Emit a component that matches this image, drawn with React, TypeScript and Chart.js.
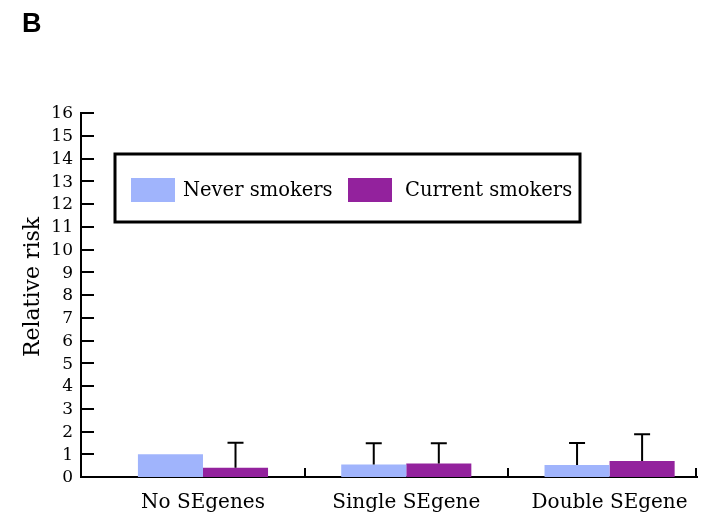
import React, { useEffect, useRef } from "react";
import { Chart, registerables } from "chart.js";

Chart.register(...registerables);

const categories = ["No SEgenes", "Single SEgene", "Double SEgene"];
const seriesNames = ["Never smokers", "Current smokers"];
const neverValues = [1.0, 0.55, 0.53];
const neverUpper: (number | null)[] = [null, 1.48, 1.49];
const currentValues = [0.41, 0.59, 0.7];
const currentUpper: (number | null)[] = [1.51, 1.48, 1.88];
const yTickValues = [0, 1, 2, 3, 4, 5, 6, 7, 8, 9, 10, 11, 12, 13, 14, 15, 16];
const seriesColors = ["#a0b4fc", "#93229d"];
const panelLabel = "B";
const yAxisTitle = "Relative risk";

const SERIF = "'DejaVu Serif', serif";

const decorPlugin = {
  id: "decor",
  afterDatasetsDraw(chart: any) {
    const ctx = chart.ctx;
    const y = chart.scales.y;
    const uppers = [neverUpper, currentUpper];
    ctx.save();
    ctx.strokeStyle = "#000";
    ctx.lineWidth = 2;
    chart.data.datasets.forEach((_: any, i: number) => {
      const meta = chart.getDatasetMeta(i);
      meta.data.forEach((bar: any, j: number) => {
        const up = uppers[i][j];
        if (up == null) return;
        const py = y.getPixelForValue(up);
        ctx.beginPath();
        ctx.moveTo(bar.x, bar.y);
        ctx.lineTo(bar.x, py);
        ctx.moveTo(bar.x - 8, py);
        ctx.lineTo(bar.x + 8, py);
        ctx.stroke();
      });
    });
    ctx.restore();
  },
  afterDraw(chart: any) {
    const ctx = chart.ctx;
    const x = chart.scales.x;
    const y = chart.scales.y;
    const area = chart.chartArea;
    ctx.save();
    ctx.strokeStyle = "#000";
    ctx.lineWidth = 2;
    // inward y ticks
    yTickValues.forEach((v) => {
      if (v === 0) return;
      const py = Math.round(y.getPixelForValue(v));
      ctx.beginPath();
      ctx.moveTo(area.left, py);
      ctx.lineTo(area.left + 13, py);
      ctx.stroke();
    });
    // x category boundary ticks
    const bx = [x.getPixelForValue(0.5), x.getPixelForValue(1.5), area.right - 1];
    bx.forEach((px) => {
      const p = Math.round(px);
      ctx.beginPath();
      ctx.moveTo(p, area.bottom);
      ctx.lineTo(p, area.bottom - 9);
      ctx.stroke();
    });
    // legend box
    ctx.lineWidth = 3;
    ctx.strokeRect(115, 154, 465, 68);
    const swX = [131, 348];
    const txX = [183, 405];
    ctx.font = `19.5px ${SERIF}`;
    ctx.textBaseline = "middle";
    ctx.textAlign = "left";
    seriesNames.forEach((name, i) => {
      ctx.fillStyle = seriesColors[i];
      ctx.fillRect(swX[i], 178, 44, 24);
      ctx.fillStyle = "#000";
      ctx.fillText(name, txX[i], 191);
    });
    // y axis title
    ctx.save();
    ctx.translate(33, 287);
    ctx.rotate(-Math.PI / 2);
    ctx.font = `22px ${SERIF}`;
    ctx.textAlign = "center";
    ctx.textBaseline = "middle";
    ctx.fillStyle = "#000";
    ctx.fillText(yAxisTitle, 0, 0);
    ctx.restore();
    // panel label
    ctx.font = `bold 27px 'Liberation Sans', Arial, sans-serif`;
    ctx.textAlign = "left";
    ctx.textBaseline = "alphabetic";
    ctx.fillStyle = "#000";
    ctx.fillText(panelLabel, 22, 32);
    ctx.restore();
  },
};

export default function App() {
  const ref = useRef<HTMLCanvasElement | null>(null);
  useEffect(() => {
    if (!ref.current) return;
    const chart = new Chart(ref.current, {
      type: "bar",
      data: {
        datasets: [
          {
            label: seriesNames[0],
            data: neverValues.map((v, i) => ({ x: i, y: v })),
            backgroundColor: seriesColors[0],
            borderWidth: 0,
          },
          {
            label: seriesNames[1],
            data: currentValues.map((v, i) => ({ x: i, y: v })),
            backgroundColor: seriesColors[1],
            borderWidth: 0,
          },
        ],
      },
      options: {
        responsive: false,
        animation: false,
        events: [],
        layout: { padding: { left: 0, right: 7, top: 113, bottom: 0 } },
        datasets: { bar: { categoryPercentage: 0.64, barPercentage: 1 } },
        plugins: { legend: { display: false }, tooltip: { enabled: false } },
        scales: {
          x: {
            type: "linear",
            min: -0.6,
            max: 2.43,
            offset: false,
            grid: { display: false, drawTicks: false, offset: false },
            border: { display: true, color: "#000", width: 2 },
            afterBuildTicks: (scale: any) => {
              scale.ticks = categories.map((_, i) => ({ value: i }));
            },
            afterFit: (scale: any) => {
              scale.height = 37;
            },
            ticks: {
              autoSkip: false,
              maxRotation: 0,
              padding: 14,
              color: "#000",
              font: { family: SERIF, size: 20 },
              callback: (v: any) => categories[Math.round(Number(v))] ?? "",
            },
          },
          y: {
            min: 0,
            max: 16,
            grid: { display: false, drawTicks: false },
            border: { display: true, color: "#000", width: 2 },
            afterFit: (scale: any) => {
              scale.width = 81;
            },
            afterBuildTicks: (scale: any) => {
              scale.ticks = yTickValues.map((v) => ({ value: v }));
            },
            ticks: {
              autoSkip: false,
              padding: 8,
              labelOffset: 1,
              color: "#000",
              font: { family: SERIF, size: 17 },
            },
          },
        },
      },
      plugins: [decorPlugin],
    } as any);
    return () => chart.destroy();
  }, []);
  return (
    <div style={{ position: "fixed", left: 0, top: 0, width: 704, height: 514, background: "#fff" }}>
      <canvas ref={ref} width={704} height={514} style={{ display: "block" }} />
    </div>
  );
}
